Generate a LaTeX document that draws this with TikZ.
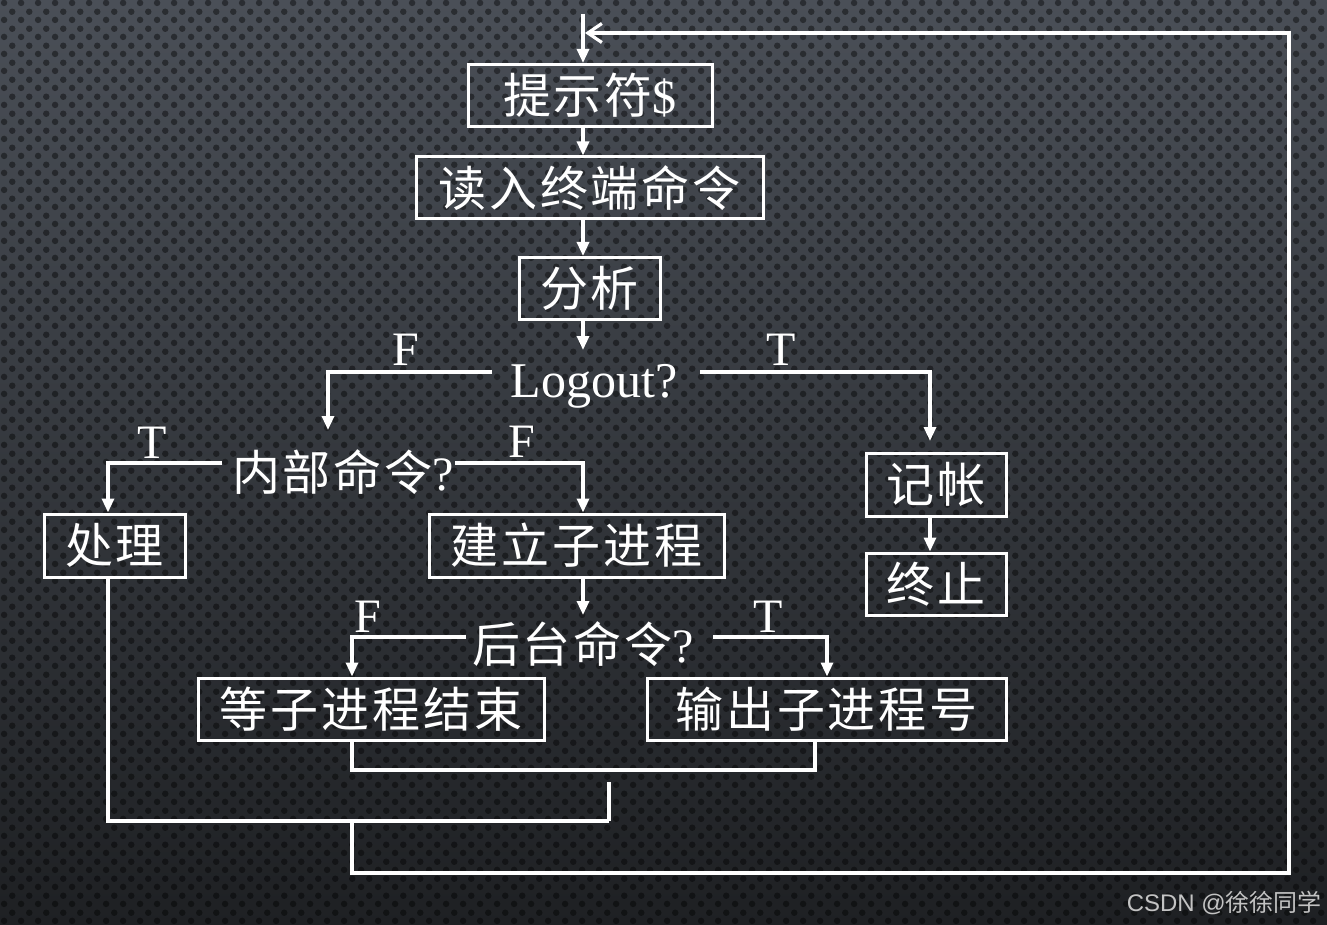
\documentclass[tikz,border=0pt]{standalone}
\usepackage{fontspec}
\setmainfont{Liberation Serif}
\newfontfamily\cjk[LetterSpace=6]{Noto Sans CJK SC}
\newfontfamily\wmcjk{Noto Sans CJK SC}
\newfontfamily\wmsans{Liberation Sans}
\usetikzlibrary{arrows.meta,patterns.meta}
\definecolor{bgtop}{RGB}{74,79,87}
\definecolor{bgmid}{RGB}{44,47,51}
\definecolor{bgbot}{RGB}{30,32,35}
\definecolor{wmgray}{RGB}{195,195,195}
\tikzdeclarepattern{name=hexdots, type=uncolored,
  bounding box={(0pt,0pt) and (16.67pt,16.66pt)},
  tile size={(16.67pt,16.66pt)},
  code={\fill (4.17pt,4.17pt) circle[radius=3.3pt];
        \fill (12.5pt,12.5pt) circle[radius=3.3pt];}}
\begin{document}
\begin{tikzpicture}[x=1pt,y=-1pt,
  line/.style={draw=white,line width=3.2pt},
  arr/.style={line,-{Triangle[length=14pt,width=12pt]}},
  back/.style={line,-{Straight Barb[length=14pt,width=19pt]}},
  box/.style={draw=white,line width=3pt,text=white,inner sep=0pt,minimum height=62pt,font=\fontsize{48}{50}\selectfont},
  dec/.style={text=white,inner sep=0pt,anchor=base,font=\fontsize{48}{50}\selectfont},
  lab/.style={text=white,inner sep=0pt,anchor=base,font=\fontsize{48}{50}\selectfont}
]
\useasboundingbox (0,0) rectangle (1327,925);
\shade[top color=bgtop,middle color=bgmid,bottom color=bgbot] (0,0) rectangle (1327,925);
\fill[pattern=hexdots,pattern color=black,fill opacity=0.42] (0,0) rectangle (1327,925);
% coordinates
\coordinate (ax) at (583,0);
\coordinate (top) at (583,14);
\coordinate (loin) at (583,350);
\coordinate (loL) at (492,372);
\coordinate (loR) at (700,372);
\coordinate (nbin) at (328,430);
\coordinate (jzin) at (930,441);
\coordinate (nbL) at (222,463);
\coordinate (nbR) at (455,463);
\coordinate (htin) at (583,615);
\coordinate (htL) at (466,637);
\coordinate (htR) at (713,637);
\coordinate (m1) at (352,770);
\coordinate (m2) at (815,770);
\coordinate (m3) at (609,782);
\coordinate (m4) at (609,821);
\coordinate (m5) at (108,821);
\coordinate (m6) at (352,821);
\coordinate (m7) at (352,873);
\coordinate (m8) at (1289,873);
\coordinate (m9) at (1289,33);
\coordinate (fb) at (585,33);
% nodes
\node[box,minimum width=244pt] (p1) at (590,95.5) {{\cjk 提示符}\$};
\node[box,minimum width=347pt] (p2) at (589.5,188) {\cjk 读入终端命令};
\node[box,minimum width=141pt] (p3) at (589.5,288.5) {\cjk 分析};
\node[dec,font=\fontsize{50}{52}\selectfont] (lo) at (594,397) {Logout?};
\node[dec] (nb) at (343,490) {{\cjk 内部命令}?};
\node[box,minimum width=141pt,minimum height=63pt] (cl) at (114.5,545.5) {\cjk 处理};
\node[box,minimum width=295pt,minimum height=63pt] (jl) at (576.5,545.5) {\cjk 建立子进程};
\node[box,minimum width=140pt,minimum height=63pt] (jz) at (936,484.5) {\cjk 记帐};
\node[box,minimum width=140pt] (zz) at (936,584) {\cjk 终止};
\node[dec] (ht) at (583,662) {{\cjk 后台命令}?};
\node[box,minimum width=346pt] (dd) at (371,709) {\cjk 等子进程结束};
\node[box,minimum width=359pt] (sc) at (826.5,709) {\cjk 输出子进程号};
\node[lab] (f1) at (406,365) {F};
\node[lab] (t1) at (781,365) {T};
\node[lab] (t2) at (152,458) {T};
\node[lab] (f2) at (522,457) {F};
\node[lab] (f3) at (368,632) {F};
\node[lab] (t3) at (768,632) {T};
\node[anchor=base east,text=wmgray,inner sep=0pt] (wm) at (1322,911) {\fontsize{24}{26}\selectfont\wmsans CSDN @\wmcjk 徐徐同学};
% connectors
\draw[arr] (top) -- (p1.north -| ax);
\draw[arr] (p1.south -| ax) -- (p2.north -| ax);
\draw[arr] (p2.south -| ax) -- (p3.north -| ax);
\draw[arr] (p3.south -| ax) -- (loin);
\draw[arr] (loL) -| (nbin);
\draw[arr] (loR) -| (jzin);
\draw[arr] (nbL) -| ([xshift=-6.5pt]cl.north);
\draw[arr] (nbR) -| (jl.north -| ax);
\draw[arr] (jz.south -| jzin) -- (zz.north -| jzin);
\draw[arr] (jl.south -| ax) -- (htin);
\draw[arr] (htL) -| (dd.north -| m1);
\draw[arr] (htR) -| ([xshift=0.5pt]sc.north);
\draw[line] (dd.south -| m1) -- (m1) -- (m2) -- (sc.south -| m2);
\draw[line] (m3) -- (m4);
\draw[line] (cl.south -| m5) -- (m5) -- (m4);
\draw[back] (m6) -- (m7) -- (m8) -- (m9) -- (fb);
\end{tikzpicture}
\end{document}
